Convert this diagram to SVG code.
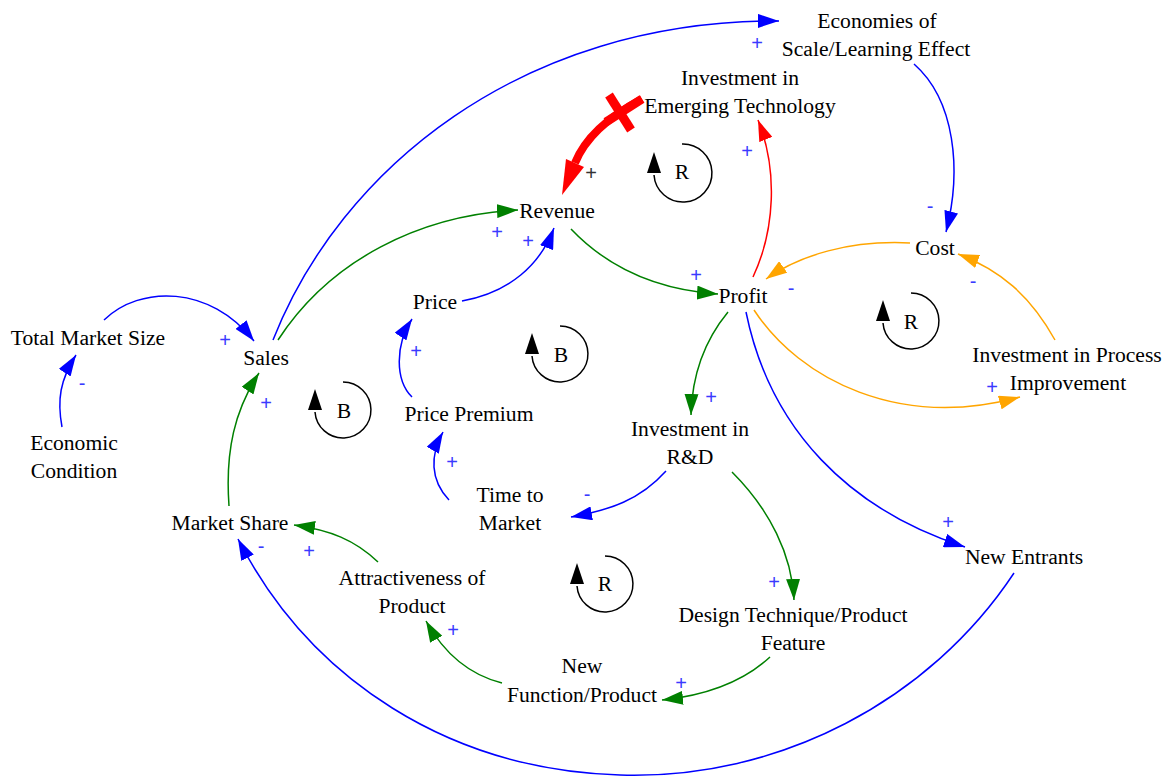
<svg xmlns="http://www.w3.org/2000/svg" width="1170" height="776" viewBox="0 0 1170 776">
<style>
.n{font-family:"Liberation Serif","Times New Roman",serif;font-size:21.6px;fill:#000;text-anchor:middle}
.p{font-family:"Liberation Sans",Arial,sans-serif;font-size:20px;fill:#3a3aff;text-anchor:middle}
.pk{font-family:"Liberation Sans",Arial,sans-serif;font-size:20px;fill:#333;text-anchor:middle}
.c{fill:none;stroke-width:1.5}
.b{stroke:#0000ff}.g{stroke:#008000}.r{stroke:#ff0000}.o{stroke:#ffa500}
.loop{fill:none;stroke:#000;stroke-width:1.5}
</style>
<defs>
<marker id="ab" markerUnits="userSpaceOnUse" markerWidth="22" markerHeight="14" refX="21" refY="7" orient="auto"><path d="M0,0 L21,7 L0,14 z" fill="#0000ff"/></marker>
<marker id="ag" markerUnits="userSpaceOnUse" markerWidth="22" markerHeight="14" refX="21" refY="7" orient="auto"><path d="M0,0 L21,7 L0,14 z" fill="#008000"/></marker>
<marker id="ar" markerUnits="userSpaceOnUse" markerWidth="22" markerHeight="14" refX="21" refY="7" orient="auto"><path d="M0,0 L21,7 L0,14 z" fill="#ff0000"/></marker>
<marker id="ao" markerUnits="userSpaceOnUse" markerWidth="22" markerHeight="14" refX="21" refY="7" orient="auto"><path d="M0,0 L21,7 L0,14 z" fill="#ffa500"/></marker>
</defs>
<rect width="1170" height="776" fill="#fff"/>

<g id="connectors">
<path class="c b" d="M 273 340 C 340 170, 520 20, 779 21" marker-end="url(#ab)"/>
<path class="c b" d="M 914 64 C 955 100, 962 170, 946 232" marker-end="url(#ab)"/>
<path d="M 642 99 C 610 116, 585 138, 575 163" fill="none" stroke="#ff0000" stroke-width="8"/>
<polygon points="562,195 566,159 584,167" fill="#ff0000"/>
<line x1="609" y1="95" x2="631" y2="130" stroke="#ff0000" stroke-width="9"/>
<line x1="606" y1="122" x2="642" y2="99" stroke="#ff0000" stroke-width="9"/>
<path class="c r" d="M 753 277 C 775 230, 778 170, 758 120" marker-end="url(#ar)"/>
<path class="c g" d="M 571 229 C 610 270, 660 290, 718 294" marker-end="url(#ag)"/>
<path class="c g" d="M 278 340 C 330 260, 420 215, 518 210" marker-end="url(#ag)"/>
<path class="c b" d="M 462 301 C 510 292, 540 265, 554 228" marker-end="url(#ab)"/>
<path class="c b" d="M 412 397 C 395 380, 395 345, 412 319" marker-end="url(#ab)"/>
<path class="c b" d="M 449 500 C 430 480, 430 455, 443 432" marker-end="url(#ab)"/>
<path class="c b" d="M 666 471 C 640 500, 610 510, 571 517" marker-end="url(#ab)"/>
<path class="c g" d="M 728 312 C 705 340, 692 375, 691 415" marker-end="url(#ag)"/>
<path class="c g" d="M 732 472 C 770 510, 792 555, 794 600" marker-end="url(#ag)"/>
<path class="c b" d="M 746 312 C 770 430, 850 510, 965 547" marker-end="url(#ab)"/>
<path class="c b" d="M 1014 573 C 930 700, 780 780, 620 775 C 450 770, 310 680, 238 539" marker-end="url(#ab)"/>
<path class="c g" d="M 378 562 C 355 540, 330 530, 294 525" marker-end="url(#ag)"/>
<path class="c g" d="M 502 683 C 470 675, 445 655, 426 621" marker-end="url(#ag)"/>
<path class="c g" d="M 770 657 C 745 680, 710 695, 662 700" marker-end="url(#ag)"/>
<path class="c g" d="M 229 506 C 225 450, 235 410, 259 373" marker-end="url(#ag)"/>
<path class="c b" d="M 104 320 C 140 285, 210 285, 254 341" marker-end="url(#ab)"/>
<path class="c b" d="M 62 427 C 57 400, 60 380, 76 355" marker-end="url(#ab)"/>
<path class="c o" d="M 910 243 C 850 240, 800 255, 766 279" marker-end="url(#ao)"/>
<path class="c o" d="M 1055 340 C 1030 295, 1000 270, 958 254" marker-end="url(#ao)"/>
<path class="c o" d="M 754 310 C 800 380, 900 430, 1020 397" marker-end="url(#ao)"/>
</g>

<g id="polarities">
<text class="p" x="757" y="50">+</text>
<text class="p" x="930" y="213">-</text>
<text class="pk" x="591" y="180">+</text>
<text class="p" x="747" y="158">+</text>
<text class="p" x="696" y="282">+</text>
<text class="p" x="497" y="239">+</text>
<text class="p" x="528" y="248">+</text>
<text class="p" x="416" y="358">+</text>
<text class="p" x="452" y="469">+</text>
<text class="p" x="587" y="501">-</text>
<text class="p" x="711" y="404">+</text>
<text class="p" x="774" y="589">+</text>
<text class="p" x="948" y="529">+</text>
<text class="p" x="261" y="553">-</text>
<text class="p" x="309" y="558">+</text>
<text class="p" x="453" y="637">+</text>
<text class="p" x="681" y="690">+</text>
<text class="p" x="266" y="410">+</text>
<text class="p" x="225" y="347">+</text>
<text class="p" x="82" y="390">-</text>
<text class="p" x="791" y="295">-</text>
<text class="p" x="973" y="288">-</text>
<text class="p" x="992" y="394">+</text>
</g>

<g id="loops">
<g id="loop-R1"><path class="loop" d="M 682 144 A 29 29 0 1 1 654 175"/><polygon points="647,173 661,173 654,152"/><text class="n" x="682" y="179">R</text></g>
<g id="loop-R2"><path class="loop" d="M 911 293 A 28 28 0 1 1 883 323"/><polygon points="876,321 890,321 883,300"/><text class="n" x="911" y="329">R</text></g>
<g id="loop-B1"><path class="loop" d="M 560 326 A 28 28 0 1 1 532 356"/><polygon points="525,354 539,354 532,333"/><text class="n" x="561" y="362">B</text></g>
<g id="loop-B2"><path class="loop" d="M 343 382 A 28 28 0 1 1 315 412"/><polygon points="308,410 322,410 315,389"/><text class="n" x="344" y="418">B</text></g>
<g id="loop-R3"><path class="loop" d="M 605 556 A 28 28 0 1 1 577 586"/><polygon points="570,584 584,584 577,563"/><text class="n" x="605" y="591">R</text></g>
</g>

<g id="node-economies"><text class="n" x="877" y="28">Economies of</text><text class="n" x="876" y="56">Scale/Learning Effect</text></g>
<g id="node-emerging"><text class="n" x="740" y="85">Investment in</text><text class="n" x="740" y="113">Emerging Technology</text></g>
<g id="node-revenue"><text class="n" x="557" y="218">Revenue</text></g>
<g id="node-profit"><text class="n" x="743" y="303">Profit</text></g>
<g id="node-cost"><text class="n" x="935" y="255">Cost</text></g>
<g id="node-price"><text class="n" x="435" y="309">Price</text></g>
<g id="node-total-market"><text class="n" x="88" y="345">Total Market Size</text></g>
<g id="node-sales"><text class="n" x="266" y="365">Sales</text></g>
<g id="node-economic"><text class="n" x="74" y="450">Economic</text><text class="n" x="74" y="478">Condition</text></g>
<g id="node-market-share"><text class="n" x="230" y="530">Market Share</text></g>
<g id="node-price-premium"><text class="n" x="469" y="421">Price Premium</text></g>
<g id="node-rd"><text class="n" x="690" y="436">Investment in</text><text class="n" x="690" y="464">R&amp;D</text></g>
<g id="node-time"><text class="n" x="510" y="502">Time to</text><text class="n" x="510" y="530">Market</text></g>
<g id="node-process"><text class="n" x="1067" y="362">Investment in Process</text><text class="n" x="1068" y="390">Improvement</text></g>
<g id="node-new-entrants"><text class="n" x="1024" y="564">New Entrants</text></g>
<g id="node-attractiveness"><text class="n" x="412" y="585">Attractiveness of</text><text class="n" x="412" y="613">Product</text></g>
<g id="node-design"><text class="n" x="793" y="622">Design Technique/Product</text><text class="n" x="793" y="650">Feature</text></g>
<g id="node-new-function"><text class="n" x="582" y="673">New</text><text class="n" x="582" y="702">Function/Product</text></g>
</svg>
